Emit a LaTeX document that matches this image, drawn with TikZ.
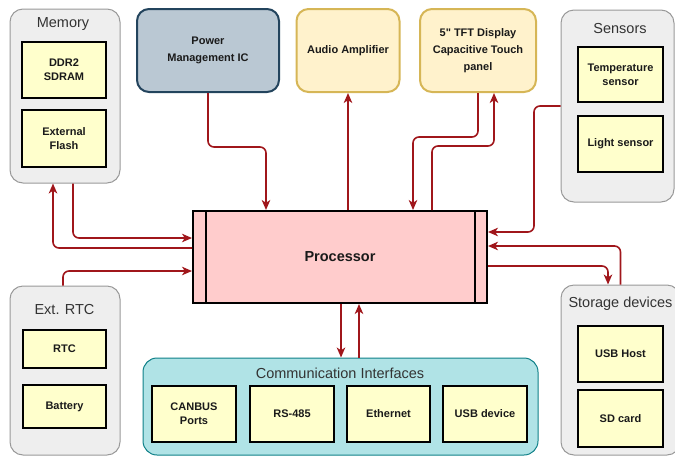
\documentclass[tikz,border=0pt]{standalone}
\usepackage{fontspec}
\setmainfont{Liberation Sans}[Ligatures=TeXOff]
\usetikzlibrary{arrows.meta}
\definecolor{grpfill}{HTML}{EEEEEE}
\definecolor{grpline}{HTML}{999999}
\definecolor{itemfill}{HTML}{FFFFCC}
\definecolor{pmfill}{HTML}{BAC8D3}
\definecolor{pmline}{HTML}{23445D}
\definecolor{ylfill}{HTML}{FFF2CC}
\definecolor{ylline}{HTML}{D6B656}
\definecolor{procfill}{HTML}{FFCCCC}
\definecolor{commfill}{HTML}{B0E3E6}
\definecolor{commline}{HTML}{0E8088}
\definecolor{wire}{HTML}{A0161B}
\definecolor{txt}{HTML}{1A1A1A}
\definecolor{ttl}{HTML}{333333}
\tikzset{
  grp/.style={draw=grpline, fill=grpfill, line width=1pt, rounded corners=13pt, inner sep=0pt},
  grptitle/.style={font=\fontsize{14.5}{16}\selectfont, text=ttl, inner sep=0pt},
  item/.style={draw=black, fill=itemfill, line width=2.2pt, inner sep=0pt, align=center,
    text=txt, font=\bfseries\fontsize{11}{14}\selectfont},
  topbox/.style={rounded corners=12pt, line width=2pt, inner sep=0pt, align=center,
    text=txt, font=\bfseries\fontsize{11}{17}\selectfont},
  conn/.style={draw=wire, line width=1.6pt, rounded corners=6pt,
    -{Stealth[length=10pt,width=8.5pt,inset=2.8pt]}},
}
\begin{document}
\begin{tikzpicture}[x=1pt, y=-1pt]
\useasboundingbox (0,0) rectangle (675,456);

% Memory group
\node[grp, minimum width=110pt, minimum height=174pt] (mem) at (65,96) {};
\node[grptitle] (memT) at (63,24) {Memory};
\node[item, minimum width=84pt, minimum height=56pt] (ddr) at (64,70) {DDR2\\SDRAM};
\node[item, minimum width=84pt, minimum height=57pt] (flash) at (64,138.5) {External\\Flash};

% Top peripherals
\node[topbox, draw=pmline, fill=pmfill, minimum width=142pt, minimum height=83pt] (pmic) at (208,50.5) {Power\\Management IC};
\node[topbox, draw=ylline, fill=ylfill, minimum width=103pt, minimum height=83pt] (audio) at (348,50.5) {Audio Amplifier};
\node[topbox, draw=ylline, fill=ylfill, minimum width=116pt, minimum height=83pt] (tft) at (478,50.5) {5" TFT Display\\Capacitive Touch\\panel};

% Sensors group
\node[grp, minimum width=113pt, minimum height=192pt] (sens) at (617.5,106) {};
\node[grptitle] (sensT) at (620,29) {Sensors};
\node[item, minimum width=85pt, minimum height=55pt] (temp) at (620.5,74.5) {Temperature\\sensor};
\node[item, minimum width=85pt, minimum height=56pt] (light) at (620.5,144) {Light sensor};

% Processor
\node[draw=black, fill=procfill, line width=2pt, minimum width=294pt, minimum height=92pt,
  inner sep=0pt, text=txt, font=\bfseries\fontsize{14.5}{16}\selectfont] (proc) at (340,257) {Processor};
\draw[line width=2pt] ([xshift=14pt]proc.north west) -- ([xshift=14pt]proc.south west);
\draw[line width=2pt] ([xshift=-13pt]proc.north east) -- ([xshift=-13pt]proc.south east);

% External RTC group
\node[grp, minimum width=110pt, minimum height=169pt] (rtcg) at (65,370.5) {};
\node[grptitle] (rtcT) at (64.5,310) {Ext. RTC};
\node[item, minimum width=83pt, minimum height=38pt] (rtc) at (64.5,349) {RTC};
\node[item, minimum width=83pt, minimum height=43pt] (batt) at (64.5,406.5) {Battery};

% Communication interfaces group
\node[draw=commline, fill=commfill, line width=1pt, rounded corners=14pt, inner sep=0pt,
  minimum width=395pt, minimum height=97pt] (comm) at (340.5,406.5) {};
\node[grptitle] (commT) at (340,373) {Communication Interfaces};
\node[item, minimum width=84pt, minimum height=56pt] (can) at (194,414) {CANBUS\\Ports};
\node[item, minimum width=84pt, minimum height=56pt] (rs) at (292,414) {RS-485};
\node[item, minimum width=83pt, minimum height=56pt] (eth) at (388.5,414) {Ethernet};
\node[item, minimum width=84pt, minimum height=56pt] (usbd) at (485,414) {USB device};

% Storage group
\node[grp, minimum width=119pt, minimum height=170pt] (stor) at (620.5,370) {};
\node[grptitle] (storT) at (620.5,304) {Storage devices};
\node[item, minimum width=85pt, minimum height=56pt] (usbh) at (620.5,354) {USB Host};
\node[item, minimum width=85pt, minimum height=57pt] (sd) at (620.5,418.5) {SD card};

% Buses
\draw[conn] (pmic.south) |- (240,147) -| ([xshift=74pt]proc.north west);
\draw[conn] ([xshift=8pt]proc.north) -- (audio.south);
\draw[conn] (tft.south) |- (440,137) -| ([xshift=221pt]proc.north west);
\draw[conn] ([xshift=240pt]proc.north west) |- (460,146) -| ([xshift=16pt]tft.south);
\draw[conn] (sens.west) -| (534,170) |- ([yshift=-22pt]proc.north east);
\draw[conn] (stor.north) |- ([yshift=-36pt]proc.north east);
\draw[conn] ([yshift=-56pt]proc.north east) -| ([xshift=-12.5pt]stor.north);
\draw[conn] ([xshift=1pt]proc.south) -- ([xshift=0.5pt]comm.north);
\draw[conn] ([xshift=18.5pt]comm.north) -- ([xshift=19pt]proc.south);
\draw[conn] ([xshift=8pt]mem.south) |- ([yshift=-28pt]proc.north west);
\draw[conn] ([yshift=-38pt]proc.north west) -| ([xshift=-12pt]mem.south);
\draw[conn] ([xshift=-2pt]rtcg.north) |- ([yshift=-61pt]proc.north west);
\end{tikzpicture}
\end{document}
